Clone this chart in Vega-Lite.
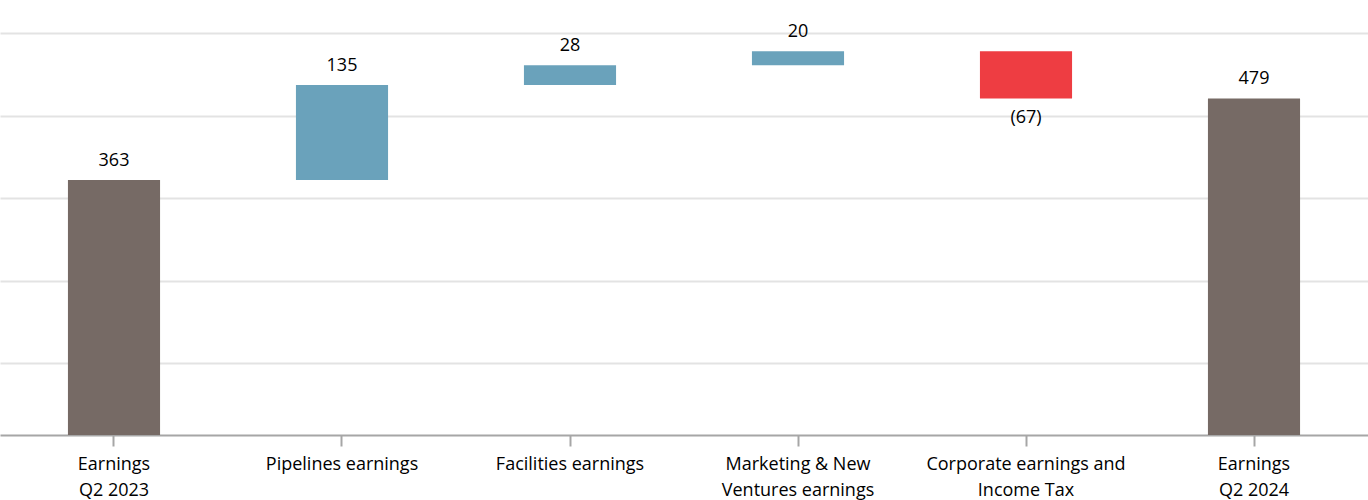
{
  "$schema": "https://vega.github.io/schema/vega-lite/v6.json",
  "width": 1368,
  "height": 435,
  "autosize": "none",
  "padding": {"left": 0, "top": 0, "right": 0, "bottom": 65},
  "background": "white",
  "config": {
    "view": {"stroke": null},
    "font": "Open Sans"
  },
  "data": {
    "values": [
      {"category": "Earnings|Q2 2023", "start": 0, "end": 363, "value": 363, "label": "363", "kind": "total"},
      {"category": "Pipelines earnings", "start": 363, "end": 498, "value": 135, "label": "135", "kind": "increase"},
      {"category": "Facilities earnings", "start": 498, "end": 526, "value": 28, "label": "28", "kind": "increase"},
      {"category": "Marketing & New|Ventures earnings", "start": 526, "end": 546, "value": 20, "label": "20", "kind": "increase"},
      {"category": "Corporate earnings and|Income Tax", "start": 546, "end": 479, "value": -67, "label": "(67)", "kind": "decrease"},
      {"category": "Earnings|Q2 2024", "start": 0, "end": 479, "value": 479, "label": "479", "kind": "total"}
    ]
  },
  "encoding": {
    "x": {
      "field": "category",
      "type": "nominal",
      "sort": null,
      "scale": {"paddingInner": 0.596, "paddingOuter": 0.298},
      "axis": {
        "title": null,
        "labelAngle": 0,
        "labelExpr": "split(datum.label, '|')",
        "labelFont": "Open Sans",
        "labelFontSize": 18,
        "labelColor": "#000000",
        "labelLineHeight": 26,
        "labelPadding": 9,
        "labelBaseline": "top",
        "labelLimit": 400,
        "labelOverlap": false,
        "domainColor": "#a6a6a6",
        "domainWidth": 2,
        "tickColor": "#a6a6a6",
        "tickWidth": 2,
        "tickSize": 11,
        "grid": false
      }
    }
  },
  "layer": [
    {
      "mark": {"type": "bar"},
      "encoding": {
        "y": {
          "field": "start",
          "type": "quantitative",
          "scale": {"domain": [0, 619], "nice": false, "zero": true},
          "axis": {
            "title": null,
            "values": [102, 219.5, 337, 454.5, 572],
            "labels": false,
            "ticks": false,
            "domain": false,
            "grid": true,
            "gridColor": "#e3e3e3",
            "gridWidth": 2
          }
        },
        "y2": {"field": "end"},
        "color": {
          "field": "kind",
          "type": "nominal",
          "scale": {"domain": ["total", "increase", "decrease"], "range": ["#766a65", "#6aa2bb", "#ee3d42"]},
          "legend": null
        }
      }
    },
    {
      "transform": [{"filter": "datum.value >= 0"}],
      "mark": {"type": "text", "baseline": "bottom", "dy": -10, "fontSize": 18, "font": "Open Sans", "color": "#000000"},
      "encoding": {
        "y": {"field": "end", "type": "quantitative"},
        "text": {"field": "label"}
      }
    },
    {
      "transform": [{"filter": "datum.value < 0"}],
      "mark": {"type": "text", "baseline": "top", "dy": 11, "fontSize": 18, "font": "Open Sans", "color": "#000000"},
      "encoding": {
        "y": {"field": "end", "type": "quantitative"},
        "text": {"field": "label"}
      }
    }
  ]
}
